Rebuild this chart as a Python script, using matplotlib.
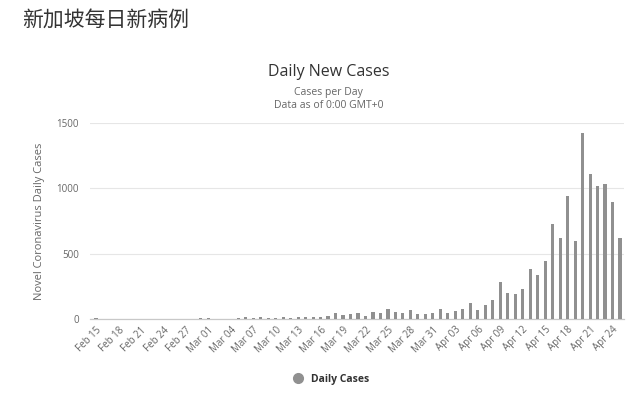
import pandas as pd
import matplotlib.pyplot as plt
from matplotlib.lines import Line2D

# Daily new cases, Singapore, Feb 15 - Apr 25 2020
dates = pd.date_range("2020-02-15", "2020-04-25", freq="D")
cases = [9, 3, 2, 2, 3, 1, 1, 3, 3, 1, 1, 2, 3, 2, 4,          # Feb 15-29
         4, 2, 2, 2, 7, 13, 8, 12, 10, 6, 12, 9, 13, 12, 14,     # Mar 01-15
         17, 23, 47, 32, 40, 47, 23, 54, 49, 73, 52, 49, 70, 42, 35, 47,  # Mar 16-31
         74, 49, 65, 75, 120, 66, 106, 142, 287, 198, 191, 233, 386, 334, 447,  # Apr 01-15
         728, 623, 942, 596, 1426, 1111, 1016, 1037, 897, 618]   # Apr 16-25
y_ticks = [0, 500, 1000, 1500]
tick_idx = list(range(0, len(dates), 3))
tick_labels = [dates[i].strftime("%b %d") for i in tick_idx]

plt.rcParams['font.family'] = ['Open Sans', 'DejaVu Sans']

fig = plt.figure(figsize=(6.4, 3.99), dpi=100)
ax = fig.add_axes([0.1406, 0.2005, 0.8344, 0.4912])

x = list(range(len(dates)))
ax.bar(x, cases, width=0.42, color='#909090', zorder=3)

ax.set_ylim(0, 1500)
ax.set_xlim(-0.8, len(dates) - 0.47)
ax.set_yticks(y_ticks)
ax.set_yticklabels([str(v) for v in y_ticks], color='#666666', fontsize=7)
ax.set_xticks(tick_idx)
ax.set_xticklabels(tick_labels, rotation=45, ha='right', rotation_mode='anchor',
                   color='#666666', fontsize=7)
ax.tick_params(axis='y', length=0, pad=8)
ax.tick_params(axis='x', length=0, pad=4)
ax.grid(axis='y', color='#e6e6e6', linewidth=0.8, zorder=0)
for s in ['top', 'right', 'left']:
    ax.spines[s].set_visible(False)
ax.spines['bottom'].set_color('#c8c8c8')
ax.spines['bottom'].set_linewidth(0.9)

ax.set_ylabel("Novel Coronavirus Daily Cases", color='#666666', fontsize=8, labelpad=8)

# titles
fig.text(0.034, 0.95, "新加坡每日新病例", fontsize=15, color='#333333',
         ha='left', va='center', family=['Noto Sans CJK SC', 'DejaVu Sans'])
fig.text(0.513, 0.82, "Daily New Cases", fontsize=11.5, color='#333333', ha='center', va='center')
fig.text(0.513, 0.769, "Cases per Day", fontsize=7.5, color='#666666', ha='center', va='center')
fig.text(0.513, 0.736, "Data as of 0:00 GMT+0", fontsize=7.5, color='#666666', ha='center', va='center')

# legend
handle = Line2D([], [], marker='o', linestyle='', markersize=7, color='#909090')
fig.legend([handle], ["Daily Cases"], loc='center', bbox_to_anchor=(0.513, 0.05),
           frameon=False, handletextpad=0.3, prop={'size': 7.5, 'weight': 'bold'},
           labelcolor='#333333')

fig.savefig("out.png", dpi=100)
